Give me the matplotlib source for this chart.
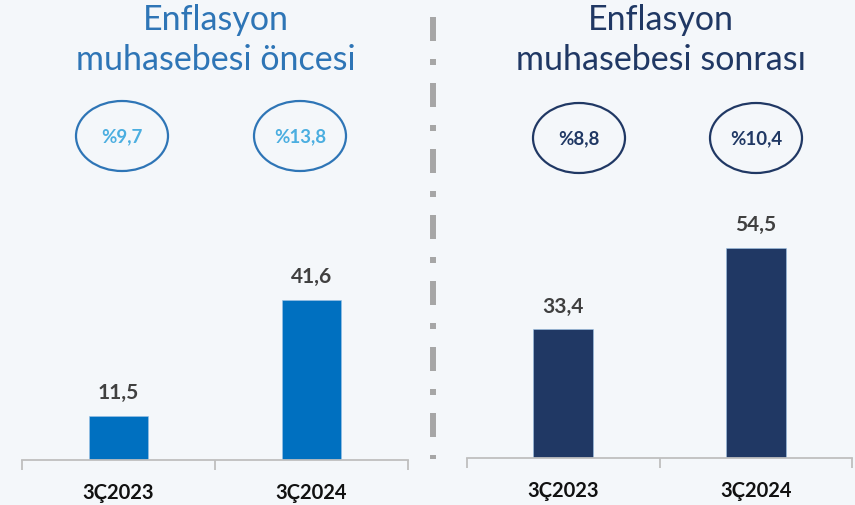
#!/usr/bin/env python3
# Enflasyon muhasebesi öncesi / sonrası: iki panelli çubuk grafik
import matplotlib
matplotlib.use('Agg')
import matplotlib.pyplot as plt
from matplotlib.patches import Ellipse

# datos
kategoriler = ['3Ç2023', '3Ç2024']
oncesi = [11.5, 41.6]
sonrasi = [33.4, 54.5]
oncesi_oran = ['%9,7', '%13,8']
sonrasi_oran = ['%8,8', '%10,4']
basliklar = ['Enflasyon\nmuhasebesi öncesi', 'Enflasyon\nmuhasebesi sonrası']

W, H = 855, 506
bg = '#F4F7FA'
mavi = '#0070C0'
lacivert = '#203864'
baslik_mavi = '#2E75B6'
acik_mavi = '#4BAEE0'

plt.rcParams['font.family'] = ['Lato', 'DejaVu Sans']

fig = plt.figure(figsize=(W / 100, H / 100), dpi=100, facecolor=bg)

# capa de dibujo en píxeles (títulos, elipses, separador)
ov = fig.add_axes([0, 0, 1, 1], facecolor='none')
ov.set_xlim(0, W)
ov.set_ylim(H, 0)
ov.axis('off')

def fmt(v):
    return f'{v:.1f}'.replace('.', ',')

paneller = [
    # (x0, baseline_y, ancho, valores, color, oranlar, color_oran, borde, titulo_x, titulo_color, elipse_x, elipse_y)
    (22, 461, 386, oncesi, mavi, oncesi_oran, acik_mavi, baslik_mavi, 216, baslik_mavi, [122, 300], 137),
    (467, 459, 385, sonrasi, lacivert, sonrasi_oran, lacivert, lacivert, 661, lacivert, [579, 756], 139),
]

px_per_unit = 3.85
ax_h = 400

for i, (x0, base, wpx, vals, col, oranlar, ocol, ecol, tx, tcol, ex, ey) in enumerate(paneller):
    ax = fig.add_axes([x0 / W, (H - base) / H, wpx / W, ax_h / H], facecolor='none')
    xs = list(range(len(kategoriler)))
    bars = ax.bar(xs, vals, width=0.31, color=col, edgecolor='#9DC3E6', linewidth=0.4)
    ax.set_xlim(-0.5, len(kategoriler) - 0.5)
    ax.set_ylim(0, ax_h / px_per_unit)
    for s in ['top', 'left', 'right']:
        ax.spines[s].set_visible(False)
    ax.spines['bottom'].set_color('#BFBFBF')
    ax.spines['bottom'].set_linewidth(1.3)
    ax.set_yticks([])
    ax.set_xticks(xs)
    ax.set_xticklabels(kategoriler, fontsize=14.5, fontweight='bold', color='#111111')
    ax.tick_params(axis='x', which='major', length=0, pad=16)
    ax.set_xticks([-0.5, 0.5, 1.5], minor=True)
    ax.tick_params(axis='x', which='minor', length=7, width=1.3, color='#BFBFBF', direction='out')
    for b, v in zip(bars, vals):
        ax.annotate(fmt(v), (b.get_x() + b.get_width() / 2, v), xytext=(0, 10),
                    textcoords='offset points', ha='center', va='bottom',
                    fontsize=15, fontweight='bold', color='#404040')

    ov.text(tx, 4, basliklar[i], ha='center', va='top', fontsize=24.5, color=tcol,
            linespacing=1.3)
    for cx, o in zip(ex, oranlar):
        ov.add_patch(Ellipse((cx, ey), 92, 70, fill=False, edgecolor=ecol, linewidth=1.6))
        ov.text(cx, ey, o, ha='center', va='center', fontsize=13.5, fontweight='bold', color=ocol)

# separador vertical punteado
ov.plot([433, 433], [18, 460], color='#A6A6A6', linewidth=4.3, solid_capstyle='butt',
        dash_capstyle='butt', dashes=[24 * 0.72 / 4.3, 18 * 0.72 / 4.3, 6 * 0.72 / 4.3, 18 * 0.72 / 4.3])

plt.savefig('out.png', dpi=100, facecolor=bg)
print('listo')
